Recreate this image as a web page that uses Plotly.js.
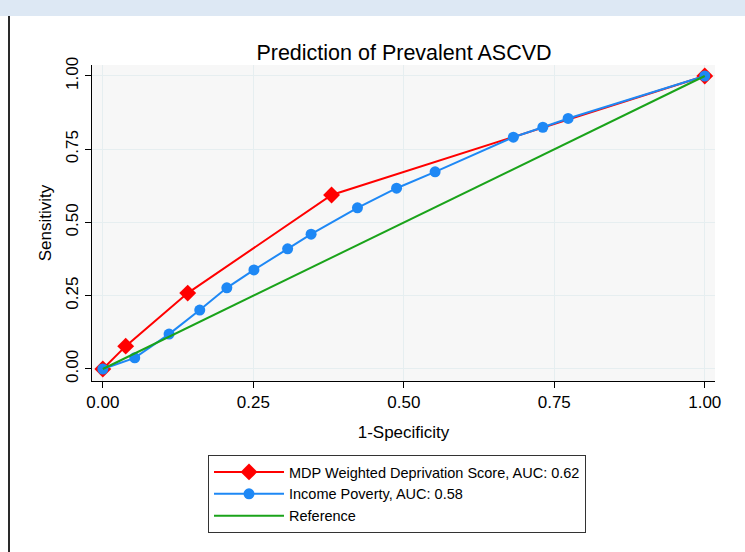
<!DOCTYPE html>
<html>
<head>
<meta charset="utf-8">
<script src="https://cdn.plot.ly/plotly-3.0.1.min.js"></script>
<style>
  html, body { margin: 0; padding: 0; background: #ffffff; }
  #wrap { position: relative; width: 745px; height: 552px; overflow: hidden; }
  #band { position: absolute; left: 0; top: 0; width: 745px; height: 16px; background: #dde8f4; }
  #edge { position: absolute; left: 8px; top: 16px; width: 2px; height: 536px; background: #2a2a2a; }
  #chart { position: absolute; left: 0; top: 0; width: 745px; height: 552px; }
</style>
</head>
<body>
<div id="wrap">
  <div id="band"></div>
  <div id="edge"></div>
  <div id="chart"></div>
</div>
<script>
// ROC curve data
const mdpX = [0, 0.038, 0.141, 0.380, 1];
const mdpY = [0, 0.078, 0.259, 0.594, 1];

const incomeX = [0, 0.053, 0.110, 0.161, 0.206, 0.251, 0.307, 0.346, 0.423, 0.488, 0.552, 0.682, 0.731, 0.773, 1];
const incomeY = [0, 0.038, 0.119, 0.201, 0.277, 0.338, 0.410, 0.460, 0.550, 0.617, 0.673, 0.791, 0.825, 0.855, 1];

const refX = [0, 1];
const refY = [0, 1];

const seriesNames = ["MDP Weighted Deprivation Score, AUC: 0.62", "Income Poverty, AUC: 0.58", "Reference"];
const tickVals = [0, 0.25, 0.5, 0.75, 1];
const tickText = ["0.00", "0.25", "0.50", "0.75", "1.00"];

const FONT = "Liberation Sans, Arial, Helvetica, sans-serif";

const traces = [
  {
    x: mdpX, y: mdpY, name: seriesNames[0], type: "scatter", mode: "lines+markers",
    line: { color: "#ff0000", width: 2 },
    marker: { color: "#ff0000", symbol: "diamond", size: 13 }
  },
  {
    x: incomeX, y: incomeY, name: seriesNames[1], type: "scatter", mode: "lines+markers",
    line: { color: "#1e88f5", width: 2 },
    marker: { color: "#1e88f5", symbol: "circle", size: 11 }
  },
  {
    x: refX, y: refY, name: seriesNames[2], type: "scatter", mode: "lines",
    line: { color: "#1aa31a", width: 2 }
  }
];

const axisCommon = {
  tickvals: tickVals, ticktext: tickText,
  ticks: "outside", ticklen: 6, tickwidth: 1, tickcolor: "#000",
  showline: true, linecolor: "#000", linewidth: 1,
  showgrid: true, gridcolor: "#e6eef0", gridwidth: 1,
  zeroline: false,
  tickfont: { family: FONT, size: 17, color: "#000" }
};

const layout = {
  width: 745, height: 552,
  margin: { l: 92, r: 30, t: 65, b: 171 },
  paper_bgcolor: "rgba(0,0,0,0)",
  plot_bgcolor: "#f7f7f7",
  showlegend: true,
  title: {
    text: "Prediction of Prevalent ASCVD",
    font: { family: FONT, size: 21.5, color: "#000" },
    x: 404 / 745, xanchor: "center",
    y: 1 - 52 / 552, yanchor: "middle"
  },
  xaxis: Object.assign({}, axisCommon, {
    range: [-0.018, 1.017],
    title: { text: "1-Specificity", font: { family: FONT, size: 17, color: "#000" }, standoff: 14 }
  }),
  yaxis: Object.assign({}, axisCommon, {
    range: [-0.041, 1.0375],
    tickangle: -90,
    title: { text: "Sensitivity", font: { family: FONT, size: 17, color: "#000" }, standoff: 7 }
  }),
  legend: {
    x: (208 - 92) / 623, xanchor: "left",
    y: (381 - 455) / 316, yanchor: "top",
    bgcolor: "#ffffff", bordercolor: "#333", borderwidth: 1,
    font: { family: FONT, size: 14.5, color: "#000" },
    itemwidth: 70,
    tracegroupgap: 0
  }
};

Plotly.newPlot("chart", traces, layout, { displayModeBar: false, staticPlot: true });
</script>
</body>
</html>
